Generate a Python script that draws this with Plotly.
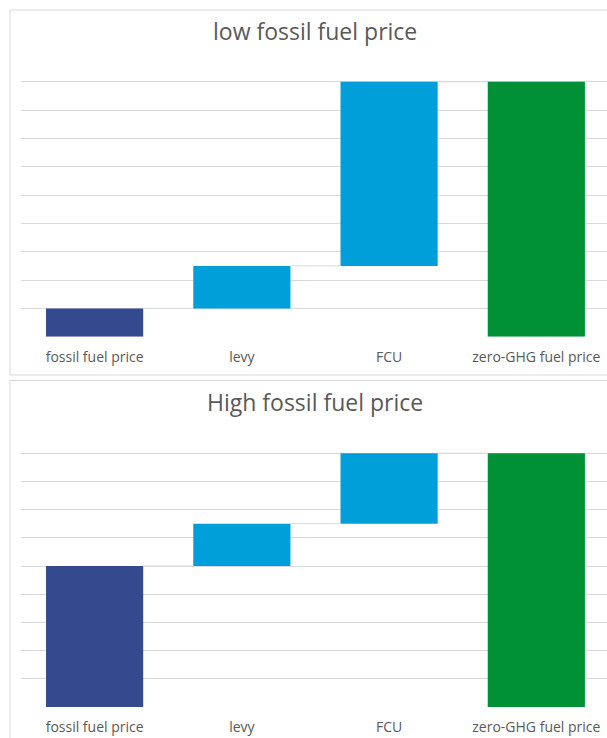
import plotly.graph_objects as go

categories = ["fossil fuel price", "levy", "FCU", "zero-GHG fuel price"]
low_steps = [1.0, 1.5, 6.5]      # fossil price, levy, FCU (increments)
high_steps = [5.0, 1.5, 2.5]
titles = ["low fossil fuel price", "High fossil fuel price"]
bar_colors = ["#35498F", "#009FDA", "#009FDA", "#009035"]

W, H = 607, 738
BAR_W = 0.66

def waterfall(steps):
    bases, heights = [], []
    cum = 0.0
    for s in steps:
        bases.append(cum)
        heights.append(s)
        cum += s
    bases.append(0.0)
    heights.append(cum)
    return bases, heights

fig = go.Figure()

panels = [
    dict(steps=low_steps, top=53.5, bottom=336.7, title_y=31, box=(10, 375)),
    dict(steps=high_steps, top=425, bottom=707, title_y=402, box=(380.5, 760)),
]

shapes = []
annotations = []
for i, p in enumerate(panels):
    xa = "x" if i == 0 else "x2"
    ya = "y" if i == 0 else "y2"
    bases, heights = waterfall(p["steps"])
    fig.add_trace(go.Bar(
        x=list(range(len(categories))), y=heights, base=bases,
        width=BAR_W, marker=dict(color=bar_colors, line=dict(width=0)),
        xaxis=xa, yaxis=ya, showlegend=False, hoverinfo="skip"))
    # connectors
    tops = [b + h for b, h in zip(bases, heights)]
    for k in range(len(categories) - 1):
        fig.add_trace(go.Scatter(
            x=[k + BAR_W / 2, k + 1 - BAR_W / 2], y=[tops[k], tops[k]],
            mode="lines", line=dict(color="#d9d9d9", width=1),
            xaxis=xa, yaxis=ya, showlegend=False, hoverinfo="skip"))
    # chart area border
    shapes.append(dict(type="rect", xref="paper", yref="paper",
                       x0=10 / W, x1=1.03, y0=1 - p["box"][1] / H, y1=1 - p["box"][0] / H,
                       line=dict(color="#d9d9d9", width=1), fillcolor="rgba(0,0,0,0)",
                       layer="below"))
    annotations.append(dict(text=titles[i], xref="paper", yref="paper",
                            x=314.5 / W, y=1 - p["title_y"] / H, xanchor="center",
                            yanchor="middle", showarrow=False,
                            font=dict(family="Open Sans", size=23, color="#595959")))

xcommon = dict(range=[-0.5, 3.48], domain=[21 / W, 1], tickmode="array",
               tickvals=list(range(len(categories))), ticktext=categories,
               showgrid=False, zeroline=False, showline=False, ticks="",
               ticklabelstandoff=10,
               tickfont=dict(family="Open Sans", size=14, color="#595959"), fixedrange=True)
ycommon = dict(range=[0, 10], dtick=1, showgrid=True, gridcolor="#d9d9d9", gridwidth=1,
               zeroline=False, showline=False, showticklabels=False, ticks="", fixedrange=True)

fig.update_layout(
    width=W, height=H, margin=dict(l=0, r=0, t=0, b=0),
    paper_bgcolor="white", plot_bgcolor="white",
    barmode="overlay",
    xaxis=dict(**xcommon, anchor="y"),
    xaxis2=dict(**xcommon, anchor="y2"),
    yaxis=dict(**ycommon, domain=[1 - panels[0]["bottom"] / H, 1 - panels[0]["top"] / H], anchor="x"),
    yaxis2=dict(**ycommon, domain=[1 - panels[1]["bottom"] / H, 1 - panels[1]["top"] / H], anchor="x2"),
    shapes=shapes, annotations=annotations,
)

fig.write_html("out.html")
